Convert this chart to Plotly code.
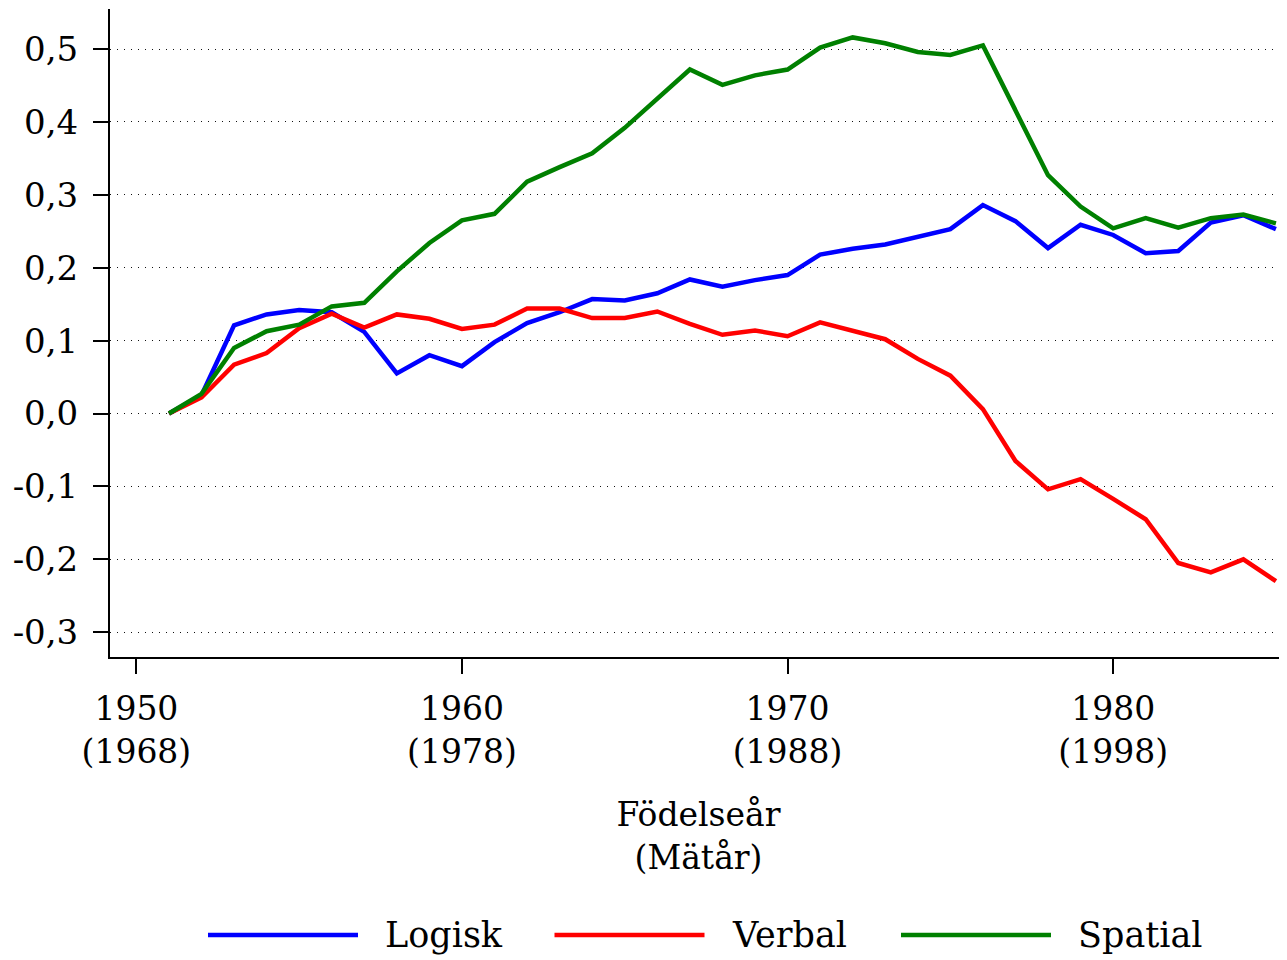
import plotly.graph_objects as go

# ---- data ----
years = list(range(1951, 1986))
logisk = [0.000, 0.025, 0.121, 0.136, 0.142, 0.139, 0.112, 0.055, 0.080, 0.065,
          0.098, 0.124, 0.139, 0.157, 0.155, 0.165, 0.184, 0.174, 0.183, 0.190,
          0.218, 0.226, 0.232, 0.243, 0.253, 0.286, 0.264, 0.227, 0.259, 0.245,
          0.220, 0.223, 0.262, 0.272, 0.253]
verbal = [0.000, 0.022, 0.067, 0.083, 0.117, 0.137, 0.118, 0.136, 0.130, 0.116,
          0.122, 0.144, 0.144, 0.131, 0.131, 0.140, 0.123, 0.108, 0.114, 0.106,
          0.125, 0.113, 0.102, 0.075, 0.052, 0.006, -0.065, -0.104, -0.090, -0.117,
          -0.145, -0.205, -0.218, -0.200, -0.230]
spatial = [0.000, 0.027, 0.090, 0.113, 0.122, 0.147, 0.152, 0.195, 0.234, 0.265,
           0.274, 0.318, 0.338, 0.357, 0.392, 0.431, 0.472, 0.451, 0.464, 0.472,
           0.502, 0.516, 0.508, 0.496, 0.492, 0.505, 0.416, 0.327, 0.284, 0.254,
           0.268, 0.255, 0.268, 0.273, 0.261]

series_names = ["Logisk", "Verbal", "Spatial"]
series_colors = ["#0000FF", "#FF0000", "#008000"]
series_values = [logisk, verbal, spatial]

x_tickvals = [1950, 1960, 1970, 1980]
x_ticktext = ["1950<br>(1968)", "1960<br>(1978)", "1970<br>(1988)", "1980<br>(1998)"]
y_tickvals = [0.5, 0.4, 0.3, 0.2, 0.1, 0.0, -0.1, -0.2, -0.3]
y_ticktext = ["0,5", "0,4", "0,3", "0,2", "0,1", "0,0", "-0,1", "-0,2", "-0,3"]

x_title = "Födelseår<br>(Mätår)"

FONT = "DejaVu Serif"
OFF = 8                      # page body margin of the html page
W, H = 1287 - OFF, 960 - OFF
ML, MR, MT, MB = 110 - OFF, 0, 9 - OFF, 960 - 657
plot_w = W - ML - MR
plot_h = H - MT - MB

fig = go.Figure()
for name, color, vals in zip(series_names, series_colors, series_values):
    fig.add_trace(go.Scatter(x=years, y=vals, mode="lines", name=name,
                             line=dict(color=color, width=4.5), showlegend=False))

fig.update_layout(
    width=W, height=H,
    margin=dict(l=ML, r=MR, t=MT, b=MB, pad=0),
    plot_bgcolor="white", paper_bgcolor="white",
    font=dict(family=FONT, size=34, color="black"),
    showlegend=False,
)

fig.update_xaxes(
    range=[1949.19, 1985.34],
    tickvals=x_tickvals, ticktext=x_ticktext,
    ticks="outside", ticklen=15, tickwidth=2, tickcolor="black",
    showline=True, linewidth=2, linecolor="black",
    showgrid=False, zeroline=False,
    tickfont=dict(family=FONT, size=33),
    ticklabelstandoff=6,
    title=dict(text=x_title, font=dict(family=FONT, size=33), standoff=33),
)
fig.update_yaxes(
    range=[-0.334, 0.555],
    tickvals=y_tickvals, ticktext=y_ticktext,
    ticks="outside", ticklen=15, tickwidth=2, tickcolor="black",
    showline=True, linewidth=2, linecolor="black",
    showgrid=True, gridcolor="#111111", gridwidth=1, griddash="1px,6px",
    zeroline=False,
    tickfont=dict(family=FONT, size=34),
    ticklabelstandoff=8,
)

# ---- legend drawn below the plot (long line swatches), screen px coords ----
def px_to_paper_x(px):
    return (px - OFF - ML) / plot_w
def px_to_paper_y(py):
    return (H - MB - (py - OFF)) / plot_h

leg_start, leg_pitch, sw_len, txt_off, leg_y = 208, 346.5, 150, 175, 935
for i, (name, color) in enumerate(zip(series_names, series_colors)):
    x0 = leg_start + i * leg_pitch
    fig.add_shape(type="line", xref="paper", yref="paper",
                  x0=px_to_paper_x(x0), x1=px_to_paper_x(x0 + sw_len),
                  y0=px_to_paper_y(leg_y), y1=px_to_paper_y(leg_y),
                  line=dict(color=color, width=4.5))
    fig.add_annotation(xref="paper", yref="paper",
                       x=px_to_paper_x(x0 + txt_off), y=px_to_paper_y(leg_y),
                       text=name, showarrow=False, xanchor="left", yanchor="middle",
                       font=dict(family=FONT, size=35, color="black"))

fig.write_html("out.html")
